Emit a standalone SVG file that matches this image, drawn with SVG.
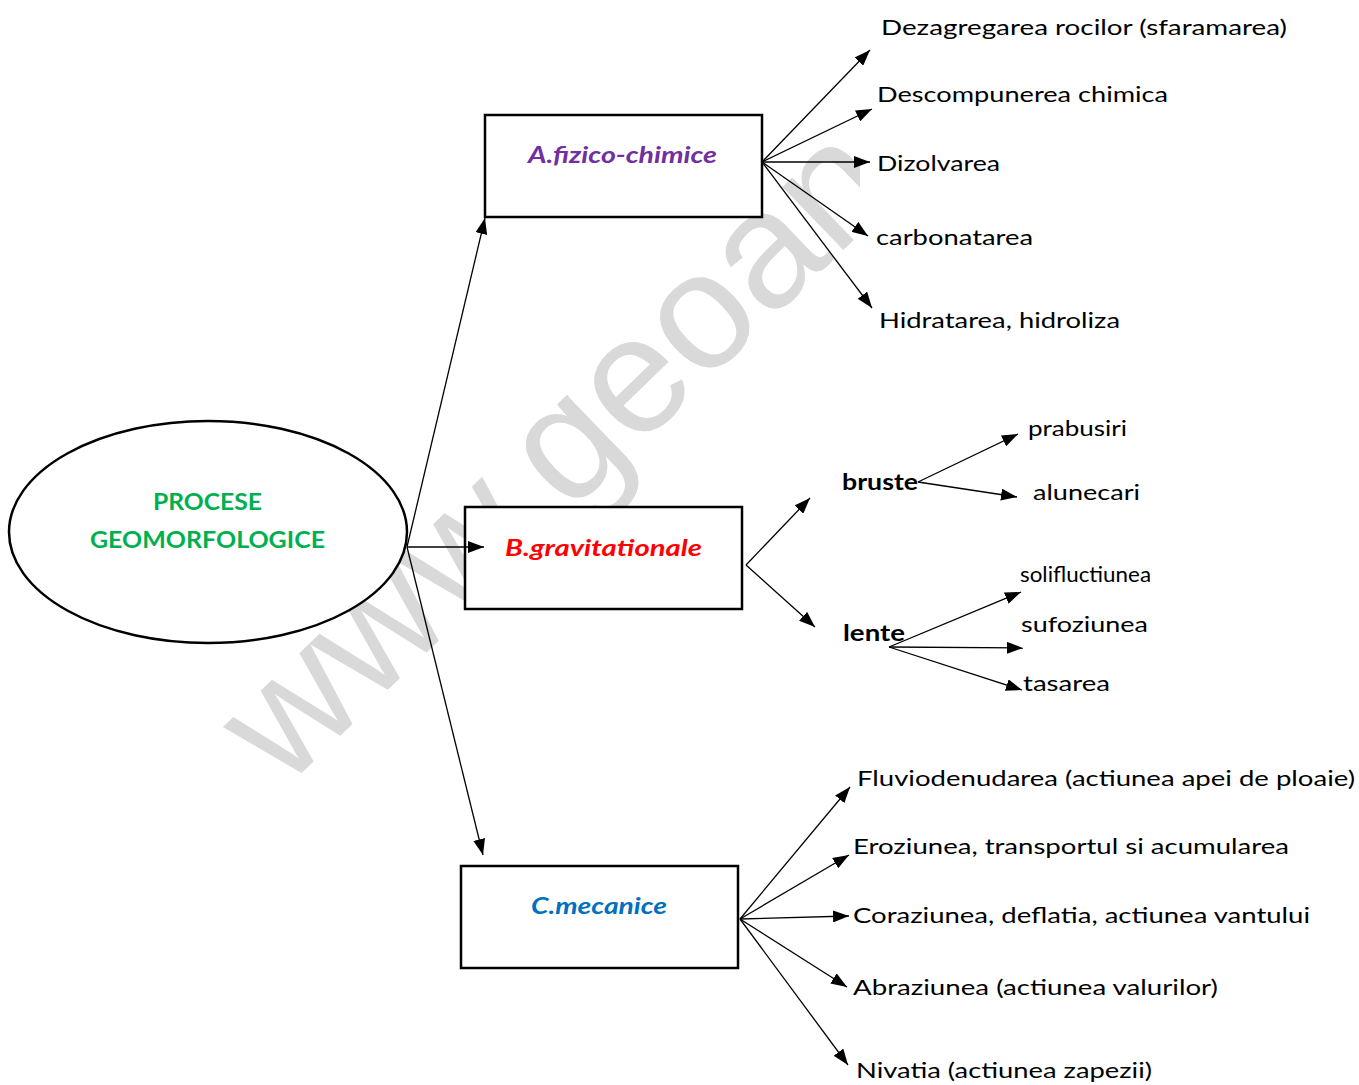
<svg xmlns="http://www.w3.org/2000/svg" width="1359" height="1085" viewBox="0 0 1359 1085">
<style>
.box{fill:#fff;stroke:#000;stroke-width:2.5}
.conn line{stroke:#000;stroke-width:1.3;marker-end:url(#ah)}
.t{font-family:Lato,"Open Sans","Liberation Sans",sans-serif;font-size:22px;fill:#000}
.b{font-weight:bold}
.h{font-family:Lato,"Open Sans","Liberation Sans",sans-serif;font-size:23px;font-weight:bold}
.hi{font-style:italic}
.wm{font-family:"Liberation Sans",Arial,sans-serif;font-size:166px;fill:#d9d9d9}
</style>
<defs>
<marker id="ah" markerUnits="userSpaceOnUse" markerWidth="16" markerHeight="12" refX="16" refY="6" orient="auto">
<path d="M0,0 L16,6 L0,12 z" fill="#000"/>
</marker>
<clipPath id="wmclip"><rect x="0" y="0" width="860" height="1085"/></clipPath>
</defs>
<rect width="1359" height="1085" fill="#fff"/>
<g id="watermark" clip-path="url(#wmclip)">
<text class="wm" transform="translate(284,790) rotate(-44)">www.geoan</text>
</g>
<g id="root">
<ellipse class="box" cx="208" cy="532" rx="199" ry="111"/>
<text class="h" x="153" y="510" fill="#00b050" textLength="109" lengthAdjust="spacingAndGlyphs">PROCESE</text>
<text class="h" x="90" y="548" fill="#00b050" textLength="235" lengthAdjust="spacingAndGlyphs">GEOMORFOLOGICE</text>
</g>
<g id="nodeA">
<rect class="box" x="485" y="115" width="277" height="102"/>
<text class="h hi" x="528" y="163" fill="#7030a0" textLength="189" lengthAdjust="spacingAndGlyphs">A.fizico-chimice</text>
</g>
<g id="nodeB">
<rect class="box" x="465" y="507" width="277" height="102"/>
<text class="h hi" x="505" y="556" fill="#ff0000" textLength="197" lengthAdjust="spacingAndGlyphs">B.gravitationale</text>
</g>
<g id="nodeC">
<rect class="box" x="461" y="866" width="277" height="102"/>
<text class="h hi" x="531" y="914" fill="#0070c0" textLength="136" lengthAdjust="spacingAndGlyphs">C.mecanice</text>
</g>
<g id="leavesA">
<text class="t" x="881" y="35" textLength="406" lengthAdjust="spacingAndGlyphs">Dezagregarea rocilor (sfaramarea)</text>
<text class="t" x="877" y="102" textLength="291" lengthAdjust="spacingAndGlyphs">Descompunerea chimica</text>
<text class="t" x="877" y="171" textLength="123" lengthAdjust="spacingAndGlyphs">Dizolvarea</text>
<text class="t" x="876" y="245" textLength="157" lengthAdjust="spacingAndGlyphs">carbonatarea</text>
<text class="t" x="879" y="328" textLength="241" lengthAdjust="spacingAndGlyphs">Hidratarea, hidroliza</text>
</g>
<g id="bruste">
<text class="t b" x="842" y="490" textLength="76" lengthAdjust="spacingAndGlyphs">bruste</text>
</g>
<g id="lente">
<text class="t b" x="843" y="641" textLength="62" lengthAdjust="spacingAndGlyphs">lente</text>
</g>
<g id="leavesB">
<text class="t" x="1028" y="436" textLength="99" lengthAdjust="spacingAndGlyphs">prabusiri</text>
<text class="t" x="1033" y="500" textLength="107" lengthAdjust="spacingAndGlyphs">alunecari</text>
<text class="t" x="1020" y="582" textLength="131" lengthAdjust="spacingAndGlyphs">solifluctiunea</text>
<text class="t" x="1021" y="632" textLength="127" lengthAdjust="spacingAndGlyphs">sufoziunea</text>
<text class="t" x="1023" y="691" textLength="87" lengthAdjust="spacingAndGlyphs">tasarea</text>
</g>
<g id="leavesC">
<text class="t" x="857" y="786" textLength="498" lengthAdjust="spacingAndGlyphs">Fluviodenudarea (actiunea apei de ploaie)</text>
<text class="t" x="853" y="854" textLength="436" lengthAdjust="spacingAndGlyphs">Eroziunea, transportul si acumularea</text>
<text class="t" x="853" y="923" textLength="457" lengthAdjust="spacingAndGlyphs">Coraziunea, deflatia, actiunea vantului</text>
<text class="t" x="853" y="995" textLength="365" lengthAdjust="spacingAndGlyphs">Abraziunea (actiunea valurilor)</text>
<text class="t" x="856" y="1078" textLength="296" lengthAdjust="spacingAndGlyphs">Nivatia (actiunea zapezii)</text>
</g>
<g id="connectors" class="conn">
<line x1="407" y1="547" x2="485" y2="218"/>
<line x1="407" y1="547" x2="484" y2="547"/>
<line x1="407" y1="547" x2="483" y2="855"/>
<line x1="762" y1="162" x2="870" y2="50"/>
<line x1="762" y1="162" x2="872" y2="109"/>
<line x1="762" y1="162" x2="870" y2="162"/>
<line x1="762" y1="162" x2="868" y2="236"/>
<line x1="762" y1="162" x2="872" y2="308"/>
<line x1="746" y1="565" x2="810" y2="498"/>
<line x1="746" y1="565" x2="815" y2="627"/>
<line x1="918" y1="482" x2="1018" y2="434"/>
<line x1="918" y1="482" x2="1017" y2="497"/>
<line x1="889" y1="647" x2="1021" y2="592"/>
<line x1="889" y1="647" x2="1023" y2="648"/>
<line x1="889" y1="647" x2="1022" y2="690"/>
<line x1="740" y1="919" x2="850" y2="787"/>
<line x1="740" y1="919" x2="849" y2="855"/>
<line x1="740" y1="919" x2="849" y2="916"/>
<line x1="740" y1="919" x2="847" y2="987"/>
<line x1="740" y1="919" x2="848" y2="1065"/>
</g>
</svg>
